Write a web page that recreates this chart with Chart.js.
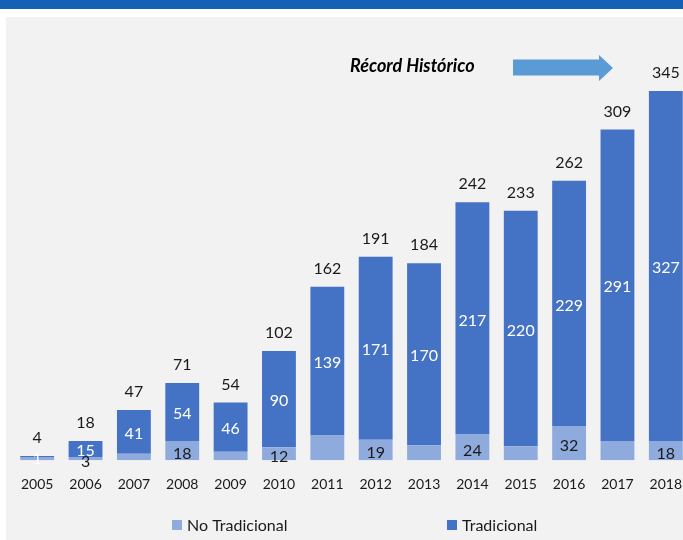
<!DOCTYPE html>
<html>
<head>
<meta charset="utf-8">
<script src="https://cdn.jsdelivr.net/npm/chart.js@4"></script>
<style>
    html, body { margin: 0; padding: 0; width: 683px; height: 540px; overflow: hidden; background: #ffffff; }
    .title-band { position: absolute; left: 0; top: 0; width: 683px; height: 9px; background: #1560b7; overflow: hidden; }
    .title-band span { position: absolute; left: 120px; top: -19px; font: bold 17px Lato, sans-serif; line-height: 20px; color: #ffffff; white-space: nowrap; }
    .panel { position: absolute; left: 6px; top: 17px; right: 0; bottom: 0; background: #f2f2f2; }
    .chart-box { position: absolute; left: 0; top: 0; width: 700px; height: 540px; }
</style>
</head>
<body>
<div class="title-band"><span>Exportaciones agrícolas y agroindustriales del país (US$, millones)</span></div>
<div class="panel"></div>
<div class="chart-box"><canvas id="export-chart"></canvas></div>
<script>
// =========================================================
// DATA
// =========================================================

const YEARS = ["2005", "2006", "2007", "2008", "2009", "2010", "2011", "2012", "2013", "2014", "2015", "2016", "2017", "2018"];
const NO_TRADICIONAL = [3, 3, 6, 18, 8, 12, 23, 19, 14, 24, 13, 32, 18, 18];
const TRADICIONAL = [1, 15, 41, 54, 46, 90, 139, 171, 170, 217, 220, 229, 291, 327];
const TOTALS = [4, 18, 47, 71, 54, 102, 162, 191, 184, 242, 233, 262, 309, 345];

// years where the "No Tradicional" value is printed
const NO_TRADICIONAL_LABELED = ["2006", "2008", "2010", "2012", "2014", "2016", "2018"];

const LIGHT_BLUE = "#8faadc";
const DARK_BLUE = "#4472c4";
const TEXT_COLOR = "#1a1a1a";
const FONT_FAMILY = "Lato, 'Noto Sans', sans-serif";

// legend item left edges (box), drawn by hand because of the wide gap
const LEGEND_X = [172, 447];
const LEGEND_Y = 525;

// =========================================================
// PLUGINS
// =========================================================

const valueLabelsPlugin = {
    id: "valueLabels",
    afterDatasetsDraw(chart) {
        const ctx = chart.ctx;
        const lowerMeta = chart.getDatasetMeta(0);
        const upperMeta = chart.getDatasetMeta(1);

        ctx.save();
        ctx.textAlign = "center";
        ctx.textBaseline = "middle";

        for (let index = 0; index < YEARS.length; index++) {
            const lowerBar = lowerMeta.data[index];
            const upperBar = upperMeta.data[index];

            ctx.font = "16px " + FONT_FAMILY;
            ctx.fillStyle = "#ffffff";
            ctx.fillText(String(TRADICIONAL[index]), upperBar.x, (upperBar.y + upperBar.base) / 2 + 2);

            if (NO_TRADICIONAL_LABELED.includes(YEARS[index])) {
                ctx.fillStyle = TEXT_COLOR;
                ctx.fillText(String(NO_TRADICIONAL[index]), lowerBar.x, (lowerBar.y + lowerBar.base) / 2 + 3);
            }

            ctx.font = "16px " + FONT_FAMILY;
            ctx.fillStyle = TEXT_COLOR;
            ctx.fillText(String(TOTALS[index]), upperBar.x, upperBar.y - 18);
        }

        ctx.restore();
    },
    afterDraw(chart) {
        const ctx = chart.ctx;

        ctx.save();
        ctx.font = "italic bold 18px " + FONT_FAMILY;
        ctx.fillStyle = "#000000";
        ctx.textAlign = "left";
        ctx.textBaseline = "middle";
        ctx.fillText("Récord Histórico", 350, 66);

        // arrow pointing at the record bar
        ctx.fillStyle = "#5b9bd5";
        ctx.beginPath();
        ctx.moveTo(513, 59.5);
        ctx.lineTo(599, 59.5);
        ctx.lineTo(599, 55);
        ctx.lineTo(613, 68);
        ctx.lineTo(599, 81);
        ctx.lineTo(599, 75.5);
        ctx.lineTo(513, 75.5);
        ctx.closePath();
        ctx.fill();

        // legend
        ctx.font = "16px " + FONT_FAMILY;
        const datasets = chart.data.datasets;
        for (let index = 0; index < datasets.length; index++) {
            const x = LEGEND_X[index];
            ctx.fillStyle = datasets[index].backgroundColor;
            ctx.fillRect(x, LEGEND_Y - 5, 10, 10);
            ctx.fillStyle = TEXT_COLOR;
            ctx.fillText(datasets[index].label, x + 15, LEGEND_Y + 1);
        }
        ctx.restore();
    }
};

// =========================================================
// CHART
// =========================================================

const canvas = document.getElementById("export-chart");

new Chart(canvas, {
    type: "bar",
    data: {
        labels: YEARS,
        datasets: [
            {
                label: "No Tradicional",
                data: NO_TRADICIONAL,
                backgroundColor: LIGHT_BLUE
            },
            {
                label: "Tradicional",
                data: TRADICIONAL,
                backgroundColor: DARK_BLUE
            }
        ]
    },
    options: {
        responsive: true,
        maintainAspectRatio: false,
        animation: false,
        datasets: {
            bar: {
                categoryPercentage: 1,
                barPercentage: 0.7
            }
        },
        layout: {
            padding: {
                top: 32,
                bottom: 39,
                left: 13,
                right: 10
            }
        },
        scales: {
            x: {
                stacked: true,
                grid: { display: false },
                border: { display: false },
                ticks: {
                    color: TEXT_COLOR,
                    padding: 8,
                    font: { family: FONT_FAMILY, size: 14 }
                }
            },
            y: {
                stacked: true,
                display: false,
                min: 0,
                max: 400
            }
        },
        plugins: {
            legend: { display: false },
            tooltip: { enabled: false }
        }
    },
    plugins: [valueLabelsPlugin]
});
</script>
</body>
</html>
